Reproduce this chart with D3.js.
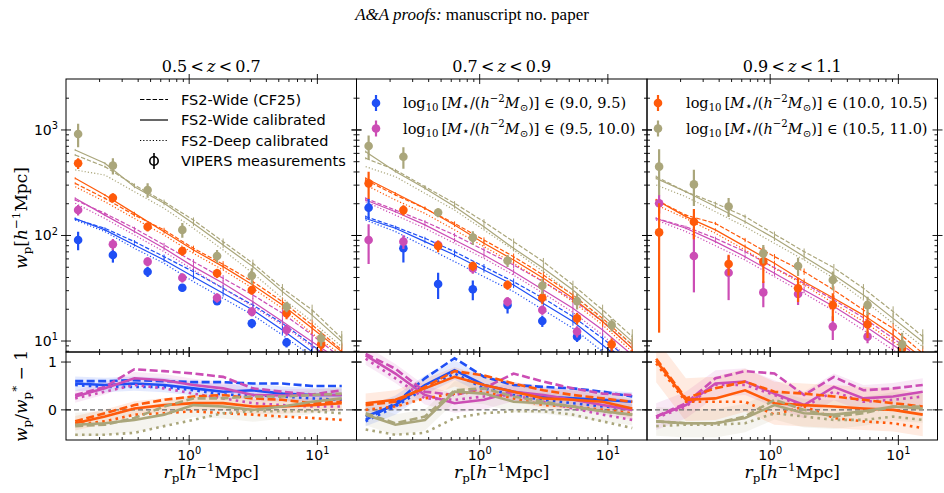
<!DOCTYPE html>
<html><head><meta charset="utf-8">
<script src="https://cdn.jsdelivr.net/npm/d3@7"></script>
<style>body{margin:0;background:#fff}</style>
</head><body><svg id="c" width="944" height="493"></svg>
<script>
// ---------------- DATA ----------------
const rpObs = [0.136, 0.254, 0.474, 0.884, 1.65, 3.08, 5.75, 10.7];
const rpModel = [0.129, 0.22, 0.374, 0.637, 1.08, 1.84, 3.14, 5.34, 9.1, 15.5];
const modelErrDex = [0.01, 0.01, 0.015, 0.02, 0.025, 0.03, 0.035, 0.04, 0.05, 0.07];
const zTitles = [["0.5", "0.7"], ["0.7", "0.9"], ["0.9", "1.1"]];
const massLabels = ["(9.0, 9.5)", "(9.5, 10.0)", "(10.0, 10.5)", "(10.5, 11.0)"];
const lineLabels = ["FS2-Wide (CF25)", "FS2-Wide calibrated", "FS2-Deep calibrated", "VIPERS measurements"];
const xTickLabels = [[1, "0"], [10, "1"]];
const yTickLabelsTop = [[10, "1"], [100, "2"], [1000, "3"]];
const yTickLabelsBot = [0, 1];

// Panel 1: 0.5<z<0.7
const p1BlueObs = [90.6, 65.3, 45.4, 32.0, 23.9, 14.7, 9.7, 6.0];
const p1BlueErr = [18, 10, 5, 2.6, 1.9, 1.5, 1.0, 0.8];
const p1BlueWide = [143, 117, 87.4, 63.0, 45.4, 31.6, 21.9, 14.7, 9.17, 5.51];
const p1BlueCal = [145, 113, 81.3, 58.6, 40.7, 28.3, 19.7, 12.7, 7.92, 5.12];
const p1BlueDeep = [140, 109, 75.6, 54.5, 36.5, 25.4, 17.6, 11.4, 7.1, 4.76];
const p1BlueRWide = [0.6, 0.6, 0.62, 0.6, 0.58, 0.58, 0.55, 0.55, 0.5, 0.5];
const p1BlueRCal = [0.55, 0.52, 0.55, 0.52, 0.45, 0.38, 0.41, 0.34, 0.31, 0.31];
const p1BlueRDeep = [0.52, 0.48, 0.48, 0.48, 0.41, 0.32, 0.31, 0.28, 0.24, 0.21];
const p1BlueBand = 0.15;

const p1MagObs = [174.6, 82.6, 56.5, 39.8, 25.7, 19.0, 12.7, 7.5];
const p1MagErr = [20, 10, 5.6, 4, 2.6, 1.9, 1.5, 1.0];
const p1MagWide = [217, 162, 117, 81.3, 56.5, 39.3, 27.3, 18.3, 11.4, 6.85];
const p1MagCal = [225, 156, 109, 75.6, 50.7, 35.2, 23.6, 15.3, 9.86, 6.37];
const p1MagDeep = [202, 145, 101, 70.3, 47.1, 31.6, 21.2, 14.2, 8.84, 5.92];
const p1MagRWide = [0.31, 0.48, 0.85, 0.81, 0.76, 0.69, 0.45, 0.38, 0.32, 0.41];
const p1MagRCal = [0.28, 0.45, 0.66, 0.62, 0.52, 0.45, 0.31, 0.3, 0.31, 0.31];
const p1MagRDeep = [0.24, 0.38, 0.52, 0.45, 0.34, 0.24, 0.14, 0.1, 0.07, 0.07];
const p1MagBand = 0.13;

const p1OraObs = [483, 228, 121, 71.3, 43.9, 30.4, 18.3, 9.3];
const p1OraErr = [56, 23, 12, 7, 4.4, 3, 2.2, 1.4];
const p1OraWide = [312, 225, 156, 113, 75.6, 53.3, 36.5, 23.6, 14.2, 8.22];
const p1OraCal = [348, 242, 162, 108.7, 72.9, 50.7, 34.0, 21.9, 13.2, 7.92];
const p1OraDeep = [290, 209, 145, 101, 67.7, 47.1, 31.6, 20.4, 11.8, 7.37];
const p1OraRWide = [-0.24, -0.07, 0.1, 0.21, 0.28, 0.31, 0.24, 0.21, 0.14, 0.17];
const p1OraRCal = [-0.28, -0.14, 0.03, 0.1, 0.14, 0.14, 0.07, 0.07, 0.1, 0.14];
const p1OraRDeep = [-0.31, -0.24, -0.1, -0.07, -0.03, -0.07, -0.1, -0.14, -0.17, -0.21];
const p1OraBand = 0.15;

const p1KhaObs = [916, 459, 270, 113, 64, 41.6, 21.1, 10.6];
const p1KhaErr = [230, 80, 42, 18, 9, 7.3, 2.4, 1.7];
const p1KhaWide = [579, 449, 301, 209, 140, 87.4, 54.5, 31.6, 19.7, 10.6];
const p1KhaCal = [646, 483, 290, 202, 130, 81.3, 50.7, 29.4, 17.6, 9.86];
const p1KhaDeep = [418, 374, 260, 181, 117, 72.9, 43.8, 25.4, 15.3, 8.84];
const p1KhaRWide = [-0.34, -0.31, -0.17, 0.07, 0.24, 0.24, 0.28, 0.28, 0.31, 0.34];
const p1KhaRCal = [-0.31, -0.28, -0.21, -0.1, 0.1, 0.07, 0, 0.07, 0.17, 0.24];
const p1KhaRDeep = [-0.52, -0.52, -0.48, -0.34, -0.21, -0.07, -0.03, -0.03, -0.03, -0.07];
const p1KhaBand = 0.25;

// Panel 2: 0.7<z<0.9
const p2BlueObs = [183.5, 75.6, 34.7, 30.9, 21.9, 15.5, 11.0, 7.5];
const p2BlueErr = [40, 20, 9.7, 6.5, 3.7, 1.9, 1.2, 1.0];
const p2BlueWide = [151, 121, 94, 70.3, 50.7, 36.5, 25.4, 17.0, 10.6, 6.37];
const p2BlueCal = [145, 117, 87.4, 65.3, 47.1, 34.0, 22.7, 15.3, 9.17, 5.51];
const p2BlueDeep = [140, 109, 78.4, 56.5, 40.7, 29.4, 19.7, 13.2, 7.92, 4.76];
const p2BlueRWide = [-0.21, 0.14, 0.66, 1.08, 0.69, 0.52, 0.48, 0.45, 0.38, 0.28];
const p2BlueRCal = [-0.14, 0.1, 0.52, 0.83, 0.52, 0.38, 0.28, 0.24, 0.21, 0.17];
const p2BlueRDeep = [-0.24, 0.07, 0.45, 0.76, 0.45, 0.31, 0.21, 0.14, 0.07, 0.03];
const p2BlueBand = 0.2;

const p2MagObs = [90.6, 87.4, 81.3, 48.7, 23.6, 19.7, 12.3, 7.0];
const p2MagErr = [37, 13, 5, 5.4, 2.4, 2, 1.5, 1];
const p2MagWide = [225, 174, 135, 101, 72.9, 52.5, 36.5, 24.5, 15.3, 8.52];
const p2MagCal = [217, 168, 126, 90.6, 65.3, 45.4, 30.4, 20.4, 12.7, 7.37];
const p2MagDeep = [209, 156, 117, 84.3, 60.7, 42.2, 28.3, 18.7, 11.4, 6.37];
const p2MagRWide = [1.17, 0.86, 0.38, 0.31, 0.45, 0.76, 0.59, 0.45, 0.34, 0.31];
const p2MagRCal = [1.14, 0.76, 0.31, 0.14, 0.21, 0.38, 0.31, 0.21, 0.1, 0];
const p2MagRDeep = [1.07, 0.66, 0.24, 0.21, 0.28, 0.31, 0.17, 0.03, -0.1, -0.21];
const p2MagBand = 0.2;

const p2OraObs = [312, 174, 79.5, 51.4, 34.0, 25.7, 16.4, 9.3];
const p2OraErr = [90, 19, 10, 5, 3.4, 3.4, 2.1, 1.3];
const p2OraWide = [336, 242, 181, 130, 90.6, 63.0, 42.2, 27.3, 16.4, 9.17];
const p2OraCal = [348, 251, 181, 126, 84.3, 58.6, 39.3, 25.4, 15.3, 8.52];
const p2OraDeep = [301, 217, 162, 113, 78.4, 54.5, 36.5, 23.6, 14.2, 7.92];
const p2OraRWide = [0.1, 0.17, 0.48, 0.81, 0.72, 0.55, 0.41, 0.31, 0.24, 0.17];
const p2OraRCal = [0.14, 0.21, 0.45, 0.69, 0.52, 0.38, 0.24, 0.21, 0.17, 0.03];
const p2OraRDeep = [0, 0.07, 0.24, 0.34, 0.38, 0.24, 0.1, 0.07, 0, -0.07];
const p2OraBand = 0.2;

const p2KhaObs = [705, 558, 165, 95.4, 57.7, 33.4, 23.9, 14.2];
const p2KhaErr = [180, 128, 16, 14, 7.5, 5.6, 4, 1.9];
const p2KhaWide = [539, 418, 290, 202, 135, 87.4, 56.5, 34.0, 19.7, 11.0];
const p2KhaCal = [623, 403, 280, 188, 121, 75.6, 48.9, 30.4, 17.6, 9.86];
const p2KhaDeep = [449, 361, 251, 174, 113, 72.9, 45.4, 27.3, 15.8, 9.17];
const p2KhaRWide = [-0.07, -0.28, -0.14, 0.41, 0.45, 0.28, 0.17, 0.07, -0.03, -0.1];
const p2KhaRCal = [-0.1, -0.31, -0.21, 0.38, 0.34, 0.17, 0.14, 0.07, -0.03, -0.1];
const p2KhaRDeep = [-0.41, -0.52, -0.48, -0.17, -0.07, -0.03, -0.03, -0.1, -0.24, -0.38];
const p2KhaBand = 0.22;

// Panel 3: 0.9<z<1.1
const p3MagObs = [202, 63.9, 44.4, 28.9, 27.9, 13.7, 11.0, 7.0];
const p3MagErr = [40, 35, 20, 8, 6, 3.5, 1.5, 1];
const p3MagWide = [145, 121, 94, 70.3, 49.5, 35.2, 24.5, 16.6, 10.6, 6.6];
const p3MagCal = [145, 117, 87.4, 63, 43.8, 30.4, 21.2, 14.2, 9.17, 5.92];
const p3MagDeep = [140, 109, 80, 58.6, 40.7, 28.3, 19.3, 12.7, 8.22, 5.3];
const p3MagRWide = [-0.14, 0.14, 0.66, 0.81, 0.76, 0.31, 0.69, 0.41, 0.45, 0.52];
const p3MagRCal = [-0.14, 0.1, 0.55, 0.59, 0.34, 0.1, 0.48, 0.24, 0.28, 0.38];
const p3MagRDeep = [-0.17, 0.07, 0.52, 0.52, 0.31, 0.07, 0.38, 0.17, 0.21, 0.28];
const p3MagBand = 0.28;

const p3OraObs = [107, 135, 53.7, 56.5, 31.6, 21.9, 14.4, 8.5];
const p3OraErr = [95, 43, 12, 21, 8.2, 6.4, 3.7, 2];
const p3OraWide = [217, 156, 130, 90.6, 63.0, 45.4, 30.4, 19.7, 13.2, 7.65];
const p3OraCal = [217, 151, 113, 78.4, 54.5, 36.5, 25.4, 17.6, 11.4, 6.85];
const p3OraDeep = [195, 145, 105, 72.9, 48.9, 34.0, 22.7, 15.3, 9.86, 6.37];
const p3OraRWide = [1.07, 0.24, 0.45, 0.59, 0.38, 0.34, 0.28, 0.21, 0.14, 0.07];
const p3OraRCal = [1.03, 0.21, 0.24, 0.41, 0.14, 0.1, 0.07, 0.03, 0, -0.1];
const p3OraRDeep = [0.97, 0.17, 0.17, 0.17, -0.1, 0.07, -0.17, -0.24, -0.28, -0.38];
const p3OraBand = 0.45;

const p3KhaObs = [449, 305, 188, 67.7, 51.4, 37.9, 21.9, 9.3];
const p3KhaErr = [208, 115, 38, 13.5, 10, 7.6, 4.4, 2.7];
const p3KhaWide = [361, 260, 202, 151, 103, 70.3, 49.5, 31.6, 19.0, 11.0];
const p3KhaCal = [348, 260, 188, 135, 94, 63, 42.2, 27.3, 16.4, 9.86];
const p3KhaDeep = [301, 233, 168, 121, 84.3, 58.6, 39.3, 24.5, 14.7, 8.84];
const p3KhaRWide = [-0.24, -0.28, -0.28, -0.14, 0.21, 0, -0.14, -0.07, 0.07, 0.07];
const p3KhaRCal = [-0.24, -0.28, -0.28, -0.17, 0.1, -0.07, -0.1, -0.03, 0.07, 0.03];
const p3KhaRDeep = [-0.34, -0.31, -0.31, -0.28, -0.07, -0.14, -0.21, -0.21, -0.14, -0.21];
const p3KhaBand = 0.3;

// ---------------- STYLE / LAYOUT ----------------
const colors = {blue: "#1f4ff5", mag: "#cc4db5", ora: "#ff5a0a", kha: "#aaa67b"};
const mk = (c, obs, err, wide, cal, deep, rw, rc, rd, band) => ({c, obs, err, wide, cal, deep, rw, rc, rd, band});
const panels = [
  [mk("blue", p1BlueObs, p1BlueErr, p1BlueWide, p1BlueCal, p1BlueDeep, p1BlueRWide, p1BlueRCal, p1BlueRDeep, p1BlueBand),
   mk("mag", p1MagObs, p1MagErr, p1MagWide, p1MagCal, p1MagDeep, p1MagRWide, p1MagRCal, p1MagRDeep, p1MagBand),
   mk("ora", p1OraObs, p1OraErr, p1OraWide, p1OraCal, p1OraDeep, p1OraRWide, p1OraRCal, p1OraRDeep, p1OraBand),
   mk("kha", p1KhaObs, p1KhaErr, p1KhaWide, p1KhaCal, p1KhaDeep, p1KhaRWide, p1KhaRCal, p1KhaRDeep, p1KhaBand)],
  [mk("blue", p2BlueObs, p2BlueErr, p2BlueWide, p2BlueCal, p2BlueDeep, p2BlueRWide, p2BlueRCal, p2BlueRDeep, p2BlueBand),
   mk("mag", p2MagObs, p2MagErr, p2MagWide, p2MagCal, p2MagDeep, p2MagRWide, p2MagRCal, p2MagRDeep, p2MagBand),
   mk("ora", p2OraObs, p2OraErr, p2OraWide, p2OraCal, p2OraDeep, p2OraRWide, p2OraRCal, p2OraRDeep, p2OraBand),
   mk("kha", p2KhaObs, p2KhaErr, p2KhaWide, p2KhaCal, p2KhaDeep, p2KhaRWide, p2KhaRCal, p2KhaRDeep, p2KhaBand)],
  [mk("mag", p3MagObs, p3MagErr, p3MagWide, p3MagCal, p3MagDeep, p3MagRWide, p3MagRCal, p3MagRDeep, p3MagBand),
   mk("ora", p3OraObs, p3OraErr, p3OraWide, p3OraCal, p3OraDeep, p3OraRWide, p3OraRCal, p3OraRDeep, p3OraBand),
   mk("kha", p3KhaObs, p3KhaErr, p3KhaWide, p3KhaCal, p3KhaDeep, p3KhaRWide, p3KhaRCal, p3KhaRDeep, p3KhaBand)]
];

const svg = d3.select("#c");
const L0 = 66, PW = 290.5, TOP = 79, TH = 273, BH = 88;
const BOT = TOP + TH;
const x = d3.scaleLog().domain([0.1094, 20.2]).range([0, PW]);
const yT = d3.scaleLog().domain([7.87, 3040]).range([TH, 0]);
const yB = d3.scaleLinear().domain([-0.63, 1.21]).range([BH, 0]);
const SERIF = "'Liberation Serif','DejaVu Serif',serif";
const MATH = "'DejaVu Serif','Liberation Serif',serif";
const SANS = "'DejaVu Sans',sans-serif";

function rich(parent, px, py, parts, size, family, anchor, rotate) {
  const t = parent.append("text").attr("x", px).attr("y", py)
    .attr("font-family", family).attr("font-size", size)
    .attr("text-anchor", anchor || "start").attr("fill", "#000");
  if (rotate) t.attr("transform", `rotate(-90,${px},${py})`);
  let shift = 0;
  parts.forEach(([s, k]) => {
    const sp = t.append("tspan").text(s);
    let target = 0, fs = size;
    if (k.includes("sub")) { target = size * 0.22; fs = size * 0.7; }
    if (k.includes("sup")) { target = -size * 0.42; fs = size * 0.7; }
    if (k.includes("low")) { target = size * 0.12; fs = size * 0.85; }
    if (k.startsWith("i")) sp.attr("font-style", "italic");
    sp.attr("font-size", fs);
    if (target !== shift) { sp.attr("dy", target - shift); shift = target; }
  });
  return t;
}

const minorX = [];
[0.1, 1, 10].forEach(d => { for (let m = 2; m <= 9; m++) minorX.push(m * d); });
const minorXIn = minorX.filter(v => v > 0.11 && v < 20);
const minorY = [];
[1, 10, 100, 1000].forEach(d => { for (let m = 2; m <= 9; m++) minorY.push(m * d); });
const minorYIn = minorY.filter(v => v > 7.9 && v < 3000);

const dashW = "4.4,1.9", dotW = "1.2,2";
const dashB = "8,3.5", dotB = "2.6,4.2";

// title
const tt = svg.append("text").attr("x", 472).attr("y", 20).attr("text-anchor", "middle")
  .attr("font-family", SERIF).attr("font-size", 17);
tt.append("tspan").attr("font-style", "italic").text("A&A proofs:");
tt.append("tspan").text(" manuscript no. paper");

panels.forEach((series, pi) => {
  const gx = L0 + pi * PW;
  const gT = svg.append("g").attr("transform", `translate(${gx},${TOP})`);
  const gB = svg.append("g").attr("transform", `translate(${gx},${BOT})`);
  const cidT = "clipT" + pi, cidB = "clipB" + pi;
  svg.append("clipPath").attr("id", cidT).append("rect").attr("width", PW).attr("height", TH);
  svg.append("clipPath").attr("id", cidB).append("rect").attr("width", PW).attr("height", BH);
  const cT = gT.append("g").attr("clip-path", `url(#${cidT})`);
  const cB = gB.append("g").attr("clip-path", `url(#${cidB})`);

  // top: model lines
  const lineT = d3.line().x((d, i) => x(rpModel[i])).y(d => yT(d));
  series.forEach(s => {
    [["wide", dashW], ["cal", null], ["deep", dotW]].forEach(([k, da]) => {
      const p = cT.append("path").attr("d", lineT(s[k])).attr("fill", "none")
        .attr("stroke", colors[s.c]).attr("stroke-width", 1.2);
      if (da) p.attr("stroke-dasharray", da);
      s[k].forEach((v, i) => {
        if (k === "deep") return;
        const e = modelErrDex[i];
        cT.append("line").attr("x1", x(rpModel[i])).attr("x2", x(rpModel[i]))
          .attr("y1", yT(v * Math.pow(10, e))).attr("y2", yT(v / Math.pow(10, e)))
          .attr("stroke", colors[s.c]).attr("stroke-width", 1);
      });
    });
  });
  // top: measurements
  series.forEach(s => {
    s.obs.forEach((v, i) => {
      const lo = Math.max(v - s.err[i], 1), hi = v + s.err[i];
      cT.append("line").attr("x1", x(rpObs[i])).attr("x2", x(rpObs[i]))
        .attr("y1", yT(lo)).attr("y2", yT(hi)).attr("stroke", colors[s.c]).attr("stroke-width", 2.2);
      cT.append("circle").attr("cx", x(rpObs[i])).attr("cy", yT(v)).attr("r", 4.3).attr("fill", colors[s.c]);
    });
  });

  // bottom: bands, zero line, ratio lines
  series.forEach(s => {
    const a = d3.area().x((d, i) => x(rpModel[i])).y0(d => yB(d - s.band)).y1(d => yB(d + s.band));
    cB.append("path").attr("d", a(s.rc)).attr("fill", colors[s.c]).attr("opacity", 0.12);
  });
  cB.append("line").attr("x1", 0).attr("x2", PW).attr("y1", yB(0)).attr("y2", yB(0))
    .attr("stroke", "#666").attr("stroke-width", 1.3).attr("stroke-dasharray", "5,3");
  const lineB = d3.line().x((d, i) => x(rpModel[i])).y(d => yB(d));
  series.forEach(s => {
    [["rw", dashB], ["rc", null], ["rd", dotB]].forEach(([k, da]) => {
      const p = cB.append("path").attr("d", lineB(s[k])).attr("fill", "none")
        .attr("stroke", colors[s.c]).attr("stroke-width", 2.6);
      if (da) p.attr("stroke-dasharray", da);
    });
  });

  // frames and ticks
  [[gT, TH, yT, true], [gB, BH, yB, false]].forEach(([g, H, ys, isTop]) => {
    g.append("rect").attr("width", PW).attr("height", H).attr("fill", "none").attr("stroke", "#000").attr("stroke-width", 1);
    const tk = g.append("g").attr("stroke", "#000").attr("stroke-width", 0.9);
    [1, 10].forEach(v => {
      tk.append("line").attr("x1", x(v)).attr("x2", x(v)).attr("y1", H - 5).attr("y2", H + 5);
      tk.append("line").attr("x1", x(v)).attr("x2", x(v)).attr("y1", -5).attr("y2", 5);
    });
    minorXIn.forEach(v => {
      tk.append("line").attr("x1", x(v)).attr("x2", x(v)).attr("y1", H - 3).attr("y2", H);
      tk.append("line").attr("x1", x(v)).attr("x2", x(v)).attr("y1", 0).attr("y2", 3);
    });
    const majY = isTop ? [10, 100, 1000] : [0, 1];
    majY.forEach(v => {
      tk.append("line").attr("x1", -5).attr("x2", 5).attr("y1", ys(v)).attr("y2", ys(v));
      tk.append("line").attr("x1", PW - 5).attr("x2", PW + 5).attr("y1", ys(v)).attr("y2", ys(v));
    });
    if (isTop) minorYIn.forEach(v => {
      tk.append("line").attr("x1", 0).attr("x2", 3).attr("y1", ys(v)).attr("y2", ys(v));
      tk.append("line").attr("x1", PW - 3).attr("x2", PW).attr("y1", ys(v)).attr("y2", ys(v));
    });
  });

  // x tick labels
  xTickLabels.forEach(([v, e]) => {
    rich(gB, x(v), BH + 20, [["10", ""], [e, "sup"]], 14, SANS, "middle");
  });
  // x label
  rich(gB, PW / 2, BH + 38, [["r", "i"], ["p", "sub"], ["[", ""], ["h", "i"], ["−1", "sup"], ["Mpc]", ""]], 17, MATH, "middle");
  // column title
  rich(svg, gx + PW / 2, 72, [[zTitles[pi][0] + "\u2009<\u2009", ""], ["z", "i"], ["\u2009<\u2009" + zTitles[pi][1], ""]], 16, MATH, "middle");

  if (pi === 0) {
    yTickLabelsTop.forEach(([v, e]) => rich(gT, -8, yT(v) + 5, [["10", ""], [e, "sup"]], 14, SANS, "end"));
    yTickLabelsBot.forEach(v => gB.append("text").attr("x", -9).attr("y", yB(v) + 5).attr("text-anchor", "end")
      .attr("font-family", SANS).attr("font-size", 14).text(String(v)));
  }
});

// y labels
rich(svg, 27, 218, [["w", "i"], ["p", "sub"], ["[", ""], ["h", "i"], ["−1", "sup"], ["Mpc]", ""]], 17, MATH, "middle", true);
rich(svg, 27, 396, [["w", "i"], ["p", "sub"], ["/", ""], ["w", "i"], ["p", "sub"], ["*", "sup"], [" − 1", ""]], 17, MATH, "middle", true);

// legend 1: line styles
const lg = svg.append("g");
[[dashW, 99.5], [null, 120], [dotW, 140.5]].forEach(([da, yy], i) => {
  const l = lg.append("line").attr("x1", 140).attr("x2", 168).attr("y1", yy).attr("y2", yy)
    .attr("stroke", "#000").attr("stroke-width", 1.2);
  if (da) l.attr("stroke-dasharray", da);
  lg.append("text").attr("x", 181).attr("y", yy + 5).attr("font-family", SANS).attr("font-size", 14.5).text(lineLabels[i]);
});
lg.append("line").attr("x1", 154).attr("x2", 154).attr("y1", 153).attr("y2", 169).attr("stroke", "#000").attr("stroke-width", 1.6);
lg.append("circle").attr("cx", 154).attr("cy", 161).attr("r", 4.2).attr("fill", "none").attr("stroke", "#000").attr("stroke-width", 1.6);
lg.append("text").attr("x", 181).attr("y", 166).attr("font-family", SANS).attr("font-size", 14.5).text(lineLabels[3]);

// mass legends
function massEntry(mx, tx, yy, col, label) {
  svg.append("line").attr("x1", mx).attr("x2", mx).attr("y1", yy - 8).attr("y2", yy + 8).attr("stroke", col).attr("stroke-width", 2.2);
  svg.append("circle").attr("cx", mx).attr("cy", yy).attr("r", 4.3).attr("fill", col);
  rich(svg, tx, yy + 5, [["log", ""], ["10", "sub"], ["\u2009[", ""], ["M", "i"], ["⋆", "low"], ["/(", ""], ["h", "i"], ["−2", "sup"], ["M", "i"], ["⊙", "sub"], [")] ∈ " + label, ""]], 14.5, MATH, "start");
}
massEntry(376, 403, 103, colors.blue, massLabels[0]);
massEntry(376, 403, 128.5, colors.mag, massLabels[1]);
massEntry(658, 686, 103, colors.ora, massLabels[2]);
massEntry(658, 686, 128.5, colors.kha, massLabels[3]);
</script></body></html>
